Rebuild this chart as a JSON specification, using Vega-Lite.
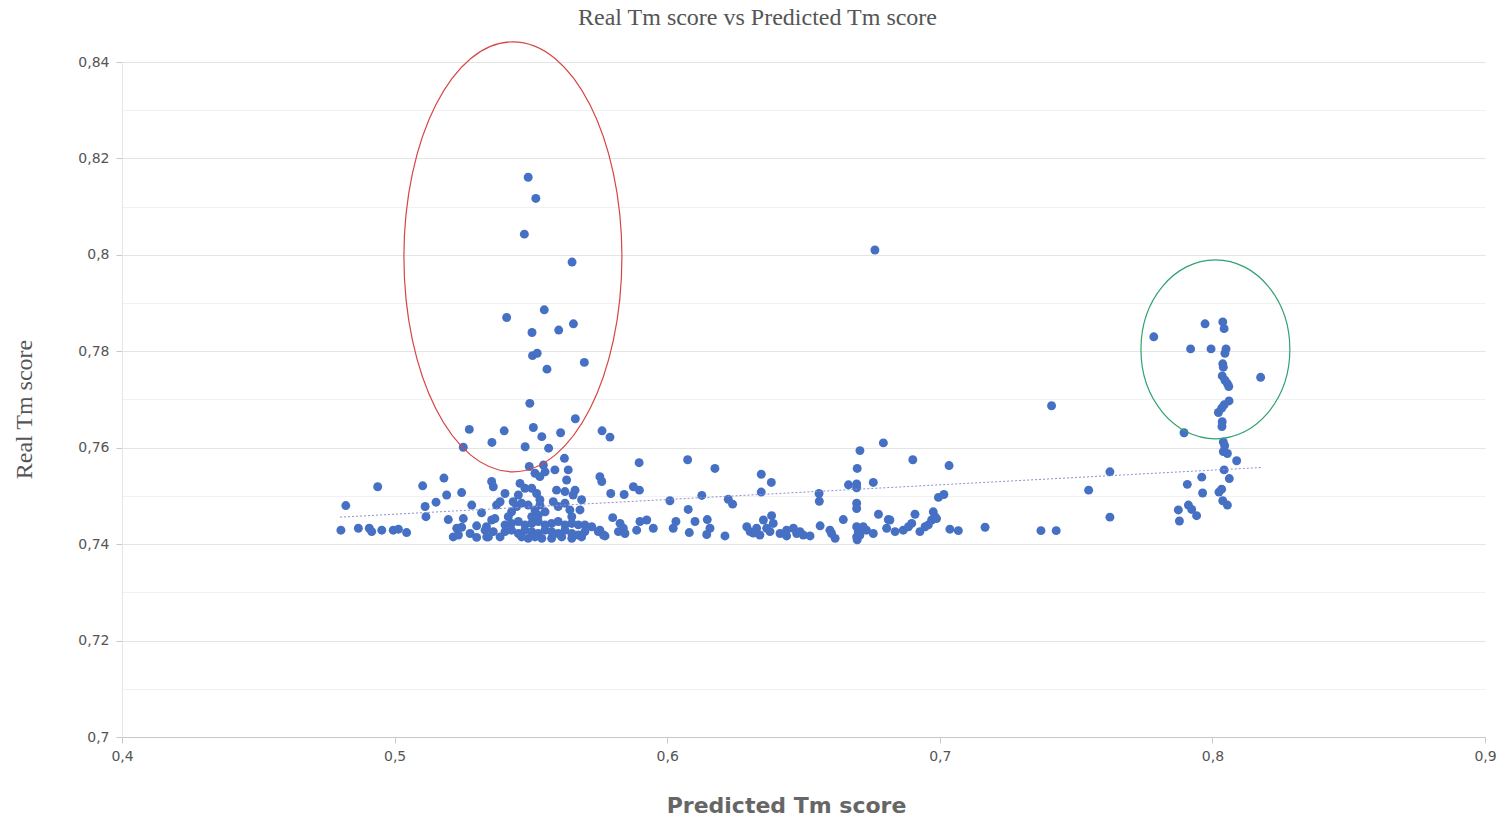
{
  "$schema": "https://vega.github.io/schema/vega-lite/v6.json",
  "autosize": {"type": "none"},
  "padding": {"left": 122, "top": 62, "right": 20, "bottom": 80},
  "width": 1363,
  "height": 675,
  "background": "white",
  "config": {"view": {"stroke": null}},
  "resolve": {"axis": {"x": "independent"}},
  "datasets": {
    "pts": [
      {"p":0.549,"r":0.8161},{"p":0.5518,"r":0.8117},{"p":0.5476,"r":0.8043},{"p":0.5651,"r":0.7985},{"p":0.5549,"r":0.7886},{"p":0.5411,"r":0.787},{"p":0.5656,"r":0.7857},{"p":0.5602,"r":0.7844},{"p":0.5504,"r":0.7839},{"p":0.5506,"r":0.7791},{"p":0.5523,"r":0.7796},{"p":0.5696,"r":0.7777},{"p":0.5559,"r":0.7763},{"p":0.5496,"r":0.7692},{"p":0.5663,"r":0.766},{"p":0.5274,"r":0.7638},{"p":0.5402,"r":0.7635},{"p":0.5509,"r":0.7642},{"p":0.5609,"r":0.7631},{"p":0.5761,"r":0.7635},{"p":0.579,"r":0.7622},{"p":0.554,"r":0.7623},{"p":0.5357,"r":0.7611},{"p":0.5252,"r":0.7601},{"p":0.5479,"r":0.7602},{"p":0.5565,"r":0.7599},
      {"p":0.6762,"r":0.801},
      {"p":0.741,"r":0.7687},{"p":0.7785,"r":0.783},{"p":0.7973,"r":0.7857},{"p":0.8038,"r":0.7861},{"p":0.8043,"r":0.7847},{"p":0.792,"r":0.7805},{"p":0.7995,"r":0.7805},{"p":0.805,"r":0.7805},{"p":0.8046,"r":0.7796},{"p":0.8038,"r":0.7774},{"p":0.804,"r":0.7767},{"p":0.8036,"r":0.7749},{"p":0.8046,"r":0.774},{"p":0.8055,"r":0.7733},{"p":0.806,"r":0.7727},{"p":0.8177,"r":0.7746},{"p":0.8061,"r":0.7697},{"p":0.8043,"r":0.7689},{"p":0.8034,"r":0.7682},{"p":0.8022,"r":0.7673},{"p":0.8036,"r":0.7654},{"p":0.8035,"r":0.7644},{"p":0.7896,"r":0.7631},{"p":0.804,"r":0.7612},{"p":0.8045,"r":0.7604},{"p":0.804,"r":0.7592},{"p":0.8055,"r":0.7588},{"p":0.8089,"r":0.7573},{"p":0.8043,"r":0.7554},{"p":0.8062,"r":0.7536},{"p":0.7961,"r":0.7539},{"p":0.7624,"r":0.755},{"p":0.7908,"r":0.7524},{"p":0.7964,"r":0.7506},{"p":0.8034,"r":0.7514},{"p":0.8024,"r":0.7508},{"p":0.7546,"r":0.7512},{"p":0.8038,"r":0.749},{"p":0.8055,"r":0.7481},{"p":0.7875,"r":0.7471},{"p":0.7912,"r":0.7481},{"p":0.7924,"r":0.7472},{"p":0.7942,"r":0.7459},{"p":0.7879,"r":0.7448},{"p":0.7624,"r":0.7456},{"p":0.7371,"r":0.7428},{"p":0.7427,"r":0.7428},
      {"p":0.6793,"r":0.761},{"p":0.6707,"r":0.7594},{"p":0.5897,"r":0.7569},{"p":0.6075,"r":0.7575},{"p":0.6175,"r":0.7557},{"p":0.6901,"r":0.7575},{"p":0.7034,"r":0.7563},{"p":0.6697,"r":0.7557},{"p":0.6345,"r":0.7545},{"p":0.6382,"r":0.7528},{"p":0.5753,"r":0.754},{"p":0.576,"r":0.753},{"p":0.6756,"r":0.7528},{"p":0.6665,"r":0.7523},{"p":0.6695,"r":0.7525},{"p":0.6695,"r":0.7517},{"p":0.5876,"r":0.7519},{"p":0.5898,"r":0.7512},{"p":0.5793,"r":0.7505},{"p":0.5842,"r":0.7503},{"p":0.6345,"r":0.7508},{"p":0.6127,"r":0.7501},{"p":0.601,"r":0.749},{"p":0.6224,"r":0.7493},{"p":0.624,"r":0.7483},{"p":0.6557,"r":0.7505},{"p":0.6558,"r":0.7489},{"p":0.6995,"r":0.7497},{"p":0.7015,"r":0.7503},{"p":0.6077,"r":0.7472},{"p":0.6695,"r":0.7485},{"p":0.6695,"r":0.7474},{"p":0.6775,"r":0.7462},{"p":0.58,"r":0.7455},{"p":0.6976,"r":0.7467},{"p":0.6982,"r":0.7457},{"p":0.6909,"r":0.7462},{"p":0.6383,"r":0.7459},{"p":0.6646,"r":0.7451},{"p":0.6811,"r":0.7451},{"p":0.6561,"r":0.7438},{"p":0.7166,"r":0.7435},{"p":0.7037,"r":0.7431},{"p":0.7068,"r":0.7428},
      {"p":0.5827,"r":0.7443},{"p":0.5839,"r":0.7433},{"p":0.5821,"r":0.7426},{"p":0.5845,"r":0.7422},{"p":0.59,"r":0.7447},{"p":0.5888,"r":0.7429},{"p":0.5925,"r":0.745},{"p":0.5949,"r":0.7433},{"p":0.6032,"r":0.7447},{"p":0.6022,"r":0.7433},{"p":0.6102,"r":0.7447},{"p":0.6081,"r":0.7424},{"p":0.6147,"r":0.7451},{"p":0.6157,"r":0.7433},{"p":0.6145,"r":0.742},{"p":0.6212,"r":0.7417},{"p":0.5753,"r":0.7429},{"p":0.5772,"r":0.7417},
      {"p":0.6292,"r":0.7436},{"p":0.6304,"r":0.7426},{"p":0.6328,"r":0.7433},{"p":0.6316,"r":0.7423},{"p":0.634,"r":0.7419},{"p":0.6365,"r":0.7433},{"p":0.6377,"r":0.7426},{"p":0.6353,"r":0.745},{"p":0.6389,"r":0.7443},
      {"p":0.6414,"r":0.7422},{"p":0.6438,"r":0.7429},{"p":0.6463,"r":0.7433},{"p":0.6487,"r":0.7426},{"p":0.6499,"r":0.7419},{"p":0.6524,"r":0.7417},{"p":0.6438,"r":0.7417},{"p":0.6475,"r":0.7422},
      {"p":0.6603,"r":0.7422},{"p":0.6616,"r":0.7412},{"p":0.6597,"r":0.7429},
      {"p":0.6695,"r":0.7436},{"p":0.6701,"r":0.7426},{"p":0.6695,"r":0.7415},{"p":0.6697,"r":0.7409},{"p":0.6719,"r":0.7436},{"p":0.6731,"r":0.7429},{"p":0.6756,"r":0.7422},{"p":0.6707,"r":0.7419},
      {"p":0.6805,"r":0.7433},{"p":0.6817,"r":0.745},{"p":0.6836,"r":0.7426},{"p":0.6866,"r":0.7429},{"p":0.6885,"r":0.7436},{"p":0.6897,"r":0.7443},{"p":0.6927,"r":0.7426},{"p":0.6946,"r":0.7436},{"p":0.6958,"r":0.744},{"p":0.697,"r":0.745},{"p":0.6988,"r":0.7453},
      {"p":0.4938,"r":0.7519},{"p":0.5103,"r":0.7521},{"p":0.5181,"r":0.7537},{"p":0.5191,"r":0.7502},{"p":0.5246,"r":0.7507},{"p":0.5152,"r":0.7487},{"p":0.5112,"r":0.7478},{"p":0.5115,"r":0.7457},{"p":0.4821,"r":0.748},{"p":0.5283,"r":0.7481},{"p":0.5319,"r":0.7465},{"p":0.5197,"r":0.7451},{"p":0.5252,"r":0.7453},{"p":0.4803,"r":0.7429},{"p":0.4867,"r":0.7433},{"p":0.4907,"r":0.7433},{"p":0.4916,"r":0.7426},{"p":0.4953,"r":0.7429},{"p":0.4995,"r":0.7429},{"p":0.5014,"r":0.7431},{"p":0.5044,"r":0.7424},{"p":0.5228,"r":0.7433},{"p":0.5215,"r":0.7415},{"p":0.5246,"r":0.7435},{"p":0.5301,"r":0.7438},{"p":0.5277,"r":0.7422},{"p":0.5234,"r":0.7419},{"p":0.5332,"r":0.7429},{"p":0.5338,"r":0.7415},{"p":0.5301,"r":0.7414},
      {"p":0.5623,"r":0.7578},{"p":0.5494,"r":0.7561},{"p":0.5546,"r":0.7564},{"p":0.5515,"r":0.7547},{"p":0.5533,"r":0.754},{"p":0.5552,"r":0.755},{"p":0.5588,"r":0.7554},{"p":0.5637,"r":0.7554},{"p":0.5631,"r":0.7533},{"p":0.5356,"r":0.753},{"p":0.5362,"r":0.7519},{"p":0.546,"r":0.7526},{"p":0.5478,"r":0.7516},{"p":0.5503,"r":0.7516},{"p":0.5521,"r":0.7505},{"p":0.5533,"r":0.7492},{"p":0.5594,"r":0.7512},{"p":0.5625,"r":0.7509},{"p":0.5662,"r":0.7512},{"p":0.5686,"r":0.7492},{"p":0.5655,"r":0.7502},
      {"p":0.5405,"r":0.7505},{"p":0.5387,"r":0.7488},{"p":0.5374,"r":0.7481},{"p":0.5454,"r":0.7502},{"p":0.5435,"r":0.7488},{"p":0.5448,"r":0.7478},{"p":0.5466,"r":0.7485},{"p":0.549,"r":0.7481},{"p":0.5515,"r":0.7471},{"p":0.5533,"r":0.7481},{"p":0.5552,"r":0.7467},{"p":0.5582,"r":0.7488},{"p":0.56,"r":0.7478},{"p":0.5625,"r":0.7485},{"p":0.5643,"r":0.7471},{"p":0.568,"r":0.7471},{"p":0.565,"r":0.7457},{"p":0.5429,"r":0.7467},{"p":0.5417,"r":0.7457},{"p":0.5368,"r":0.7453},{"p":0.5503,"r":0.7457},{"p":0.5527,"r":0.746},{"p":0.5356,"r":0.745},{"p":0.5337,"r":0.7436},{"p":0.5362,"r":0.7426},{"p":0.5344,"r":0.7415},
      {"p":0.5405,"r":0.744},{"p":0.5429,"r":0.7443},{"p":0.5454,"r":0.7447},{"p":0.5478,"r":0.744},{"p":0.5503,"r":0.7443},{"p":0.5527,"r":0.7447},{"p":0.5552,"r":0.744},{"p":0.5576,"r":0.7443},{"p":0.56,"r":0.7447},{"p":0.5625,"r":0.744},{"p":0.565,"r":0.7443},{"p":0.5674,"r":0.744},{"p":0.5698,"r":0.744},{"p":0.5723,"r":0.7436},{"p":0.5747,"r":0.7426},{"p":0.5766,"r":0.7419},
      {"p":0.5405,"r":0.7426},{"p":0.5429,"r":0.7429},{"p":0.5454,"r":0.7422},{"p":0.5478,"r":0.7429},{"p":0.5503,"r":0.7426},{"p":0.5527,"r":0.7422},{"p":0.5552,"r":0.7429},{"p":0.5576,"r":0.7426},{"p":0.56,"r":0.7422},{"p":0.5625,"r":0.7429},{"p":0.565,"r":0.7422},{"p":0.5674,"r":0.7419},{"p":0.5698,"r":0.7426},
      {"p":0.5387,"r":0.7415},{"p":0.5466,"r":0.7415},{"p":0.549,"r":0.7412},{"p":0.5515,"r":0.7415},{"p":0.554,"r":0.7412},{"p":0.5576,"r":0.7412},{"p":0.5613,"r":0.7415},{"p":0.565,"r":0.7412},{"p":0.5686,"r":0.7415}
    ],
    "trend": [
      {"p":0.48,"r":0.7456},
      {"p":0.818,"r":0.7559}
    ]
  },
  "layer": [
    {
      "data": {"name": "pts"},
      "mark": {"type": "circle", "size": 80, "color": "#4670c4", "opacity": 1},
      "encoding": {
        "x": {
          "field": "p", "type": "quantitative",
          "scale": {"domain": [0.4, 0.9], "nice": false, "zero": false},
          "axis": {
            "values": [0.4, 0.5, 0.6, 0.7, 0.8, 0.9],
            "labelExpr": "replace(format(datum.value, '.1f'), '.', ',')",
            "grid": false,
            "domainColor": "#c8c8c8",
            "tickColor": "#c8c8c8",
            "tickSize": 6,
            "labelPadding": 6,
            "labelFont": "DejaVu Sans",
            "labelFontSize": 14,
            "labelColor": "#555555",
            "labelFlush": false,
            "title": "Predicted Tm score",
            "titleFont": "DejaVu Sans",
            "titleFontSize": 22,
            "titleFontWeight": "bold",
            "titleColor": "#666666",
            "titleX": 664,
            "titleY": 75,
            "titleAlign": "center",
            "titleBaseline": "alphabetic"
          }
        },
        "y": {
          "field": "r", "type": "quantitative",
          "scale": {"domain": [0.7, 0.84], "nice": false, "zero": false},
          "axis": {
            "values": [0.7, 0.71, 0.72, 0.73, 0.74, 0.75, 0.76, 0.77, 0.78, 0.79, 0.8, 0.81, 0.82, 0.83, 0.84],
            "labelExpr": "round(datum.value*100) % 2 === 0 ? replace(format(datum.value, '.2~f'), '.', ',') : ''",
            "grid": true,
            "gridColor": {"condition": {"test": "round(datum.value*100) % 2 === 0", "value": "#e4e4e4"}, "value": "#f1f1f1"},
            "tickOpacity": {"condition": {"test": "round(datum.value*100) % 2 === 0", "value": 1}, "value": 0},
            "domainColor": "#e4e4e4",
            "tickColor": "#c8c8c8",
            "tickSize": 6,
            "labelPadding": 7,
            "labelFont": "DejaVu Sans",
            "labelFontSize": 14,
            "labelColor": "#555555",
            "labelFlush": false,
            "title": "Real Tm score",
            "titleFont": "Liberation Serif",
            "titleFontSize": 24,
            "titleFontWeight": "normal",
            "titleColor": "#555555",
            "titleX": -98,
            "titleY": 347,
            "titleAngle": 270,
            "titleAlign": "center",
            "titleBaseline": "middle"
          }
        }
      }
    },
    {
      "data": {"name": "trend"},
      "mark": {"type": "line", "color": "#8e8fd0", "strokeWidth": 1, "strokeDash": [2, 2]},
      "encoding": {
        "x": {
          "field": "p", "type": "quantitative",
          "axis": {
            "orient": "top",
            "domain": false,
            "ticks": false,
            "labels": false,
            "grid": false,
            "title": "Real Tm score vs Predicted Tm score",
            "titleFont": "Liberation Serif",
            "titleFontSize": 24,
            "titleFontWeight": "normal",
            "titleColor": "#555555",
            "titleX": 635,
            "titleY": -38,
            "titleAlign": "center",
            "titleBaseline": "alphabetic"
          }
        },
        "y": {"field": "r", "type": "quantitative"}
      }
    },
    {
      "data": {"values": [{"p": 0.5434, "r": 0.7996}]},
      "mark": {
        "type": "point", "filled": false, "clip": false,
        "shape": "M 0.507 0 C 0.507 0.5523 0.28 1 0 1 C -0.28 1 -0.507 0.5523 -0.507 0 C -0.507 -0.5523 -0.28 -1 0 -1 C 0.28 -1 0.507 -0.5523 0.507 0 Z",
        "size": 184900,
        "color": "#d64545",
        "strokeWidth": 1.2,
        "opacity": 1
      },
      "encoding": {
        "x": {"field": "p", "type": "quantitative", "axis": null},
        "y": {"field": "r", "type": "quantitative"}
      }
    },
    {
      "data": {"values": [{"p": 0.8011, "r": 0.7804}]},
      "mark": {
        "type": "point", "filled": false, "clip": false,
        "shape": "M 0.832 0 C 0.832 0.5523 0.4595 1 0 1 C -0.4595 1 -0.832 0.5523 -0.832 0 C -0.832 -0.5523 -0.4595 -1 0 -1 C 0.4595 -1 0.832 -0.5523 0.832 0 Z",
        "size": 32041,
        "color": "#2fa26f",
        "strokeWidth": 1.2,
        "opacity": 1
      },
      "encoding": {
        "x": {"field": "p", "type": "quantitative", "axis": null},
        "y": {"field": "r", "type": "quantitative"}
      }
    }
  ]
}
